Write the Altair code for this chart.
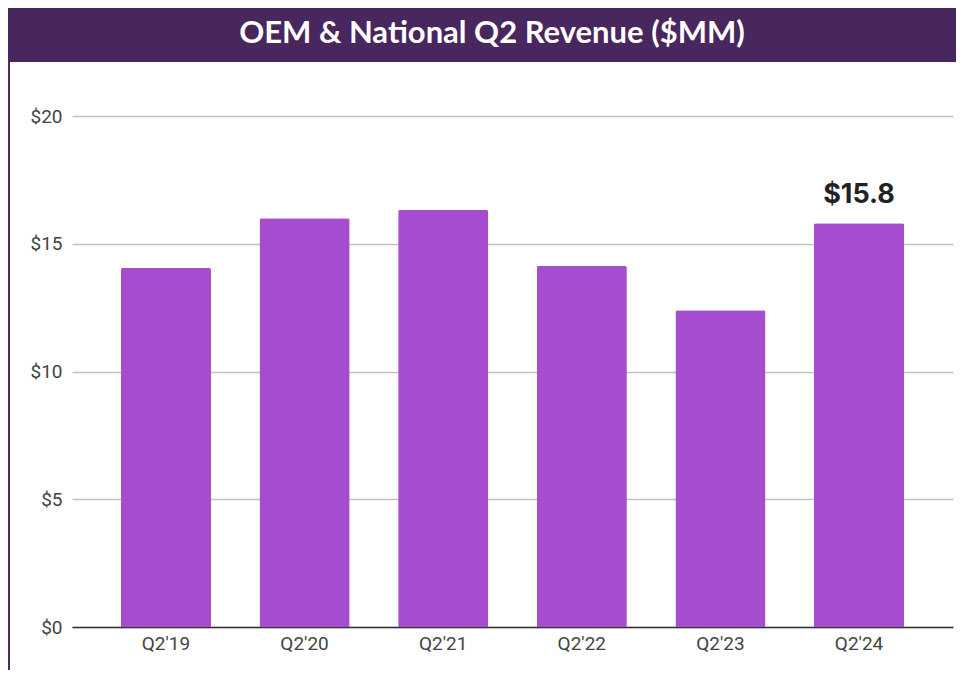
import altair as alt
import pandas as pd

categories = ["Q2'19", "Q2'20", "Q2'21", "Q2'22", "Q2'23", "Q2'24"]
revenue = [14.05, 16.0, 16.32, 14.13, 12.4, 15.8]
labels = ["", "", "", "", "", "$15.8"]
title_text = "OEM & National Q2 Revenue ($MM)"
y_ticks = [0, 5, 10, 15, 20]

df = pd.DataFrame({"quarter": categories, "revenue": revenue, "label": labels})
one = pd.DataFrame({"t": [title_text]})

W, H = 881, 511
BAR = "#a64dcf"
DARK = "#48265e"

x_enc = alt.X("quarter:N", sort=categories, title=None,
              scale=alt.Scale(paddingInner=0.35, paddingOuter=0.353),
              axis=alt.Axis(labelAngle=0, labelFont="Roboto", labelFontSize=19,
                            labelColor="#444444", labelPadding=7, ticks=False,
                            domainColor="#333333", domainWidth=1.5, grid=False))
y_enc = alt.Y("revenue:Q", title=None,
              scale=alt.Scale(domain=[0, 20], nice=False, zero=True),
              axis=alt.Axis(values=y_ticks, labelExpr="'$' + datum.value",
                            labelFont="Roboto", labelFontSize=19, labelColor="#444444",
                            labelPadding=10, ticks=False, domain=False,
                            gridColor="#c2c2c2", gridWidth=1.5))

bars = alt.Chart(df).mark_bar(color=BAR, cornerRadiusTopLeft=2,
                              cornerRadiusTopRight=2).encode(x=x_enc, y=y_enc)

value_label = alt.Chart(df).mark_text(
    font="Inter", fontSize=27, fontWeight="bold", color="#222222",
    baseline="alphabetic", dy=-20
).encode(x=alt.X("quarter:N", sort=categories), y=alt.Y("revenue:Q"), text="label:N")

title_bar = alt.Chart(one).mark_rect(color=DARK).encode(
    x=alt.value(-64), x2=alt.value(W + 3), y=alt.value(-108), y2=alt.value(-54))

title = alt.Chart(one).mark_text(
    font="Lato", fontSize=31, fontWeight="bold", color="white",
    align="center", baseline="alphabetic"
).encode(x=alt.value(420), y=alt.value(-73), text="t:N")

left_border = alt.Chart(one).mark_rule(color="#4a2a66", strokeWidth=2).encode(
    x=alt.value(-63), y=alt.value(-54), y2=alt.value(H + 43))

chart = alt.layer(bars, value_label, title_bar, title, left_border).properties(
    width=W, height=H,
    autosize=alt.AutoSizeParams(type="none"),
    padding={"left": 64, "top": 108, "right": 3, "bottom": 43},
).configure(background="white").configure_view(stroke=None, strokeWidth=0)

chart.save("out.html", embed_options={"renderer": "svg", "actions": False})
